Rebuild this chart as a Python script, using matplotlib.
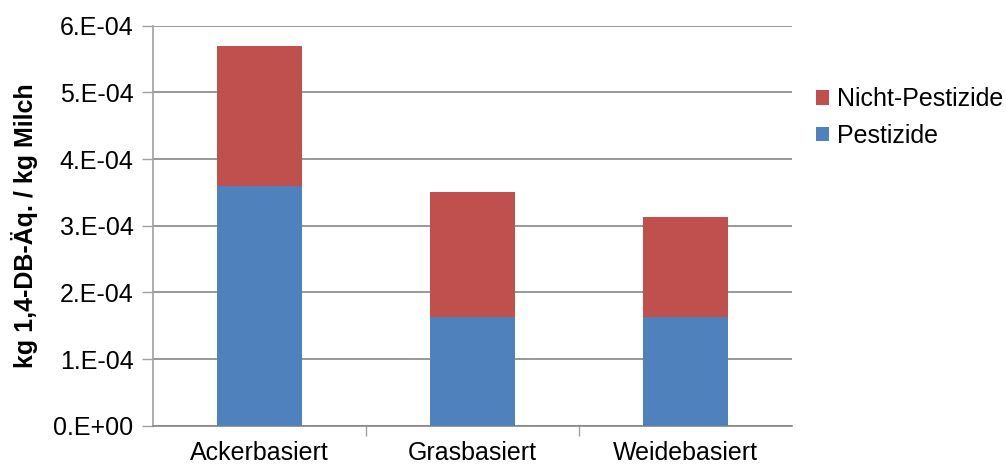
import matplotlib
matplotlib.use("Agg")
import matplotlib.pyplot as plt
import numpy as np

plt.rcParams['font.family'] = ['Liberation Sans', 'DejaVu Sans']

categories = ["Ackerbasiert", "Grasbasiert", "Weidebasiert"]
pestizide = [3.59e-4, 1.63e-4, 1.63e-4]
nicht_pestizide = [2.11e-4, 1.875e-4, 1.50e-4]
yticks = [0, 1e-4, 2e-4, 3e-4, 4e-4, 5e-4, 6e-4]
ytick_labels = ["0.E+00", "1.E-04", "2.E-04", "3.E-04", "4.E-04", "5.E-04", "6.E-04"]
ylabel = "kg 1,4-DB-Äq. / kg Milch"

blue = "#4F81BD"
red = "#C0504D"
FS = 18

fig = plt.figure(figsize=(10.06, 4.67), dpi=100)
ax = fig.add_axes([0.152, 0.0884, 0.635, 0.8566])

x = np.arange(len(categories))
ax.bar(x, pestizide, width=0.4, color=blue, label="Pestizide", zorder=3)
ax.bar(x, nicht_pestizide, width=0.4, bottom=pestizide, color=red,
       label="Nicht-Pestizide", zorder=3)

ax.set_xlim(-0.5, 2.5)
ax.set_ylim(0, 6e-4)
ax.set_yticks(yticks)
ax.set_yticklabels(ytick_labels, fontsize=FS)
ax.set_xticks(x)
ax.set_xticklabels(categories, fontsize=FS)
ax.tick_params(axis='x', length=0, pad=11)
ax.set_xticks([0.5, 1.5], minor=True)
ax.tick_params(axis='x', which='minor', length=7, color='#A0A0A0', width=1)
ax.tick_params(axis='y', length=8, color='#A0A0A0', width=1, pad=6)

ax.yaxis.grid(True, color='#868686', linewidth=1.2, zorder=0)
for s in ['top', 'right']:
    ax.spines[s].set_visible(False)
ax.spines['left'].set_color('#A0A0A0')
ax.spines['left'].set_linewidth(1.2)
ax.spines['bottom'].set_color('#868686')
ax.spines['bottom'].set_linewidth(1.2)

ax.set_ylabel(ylabel, fontsize=FS, fontweight='bold')
ax.yaxis.set_label_coords(-0.18, 0.5)

handles, labels = ax.get_legend_handles_labels()
leg = fig.legend(handles[::-1], labels[::-1], loc='upper left',
                 bbox_to_anchor=(0.811, 0.813), frameon=False, fontsize=FS,
                 handlelength=0.52, handleheight=0.52, handletextpad=0.32,
                 labelspacing=0.5, borderpad=0, borderaxespad=0)

fig.savefig("out.png", dpi=100)
